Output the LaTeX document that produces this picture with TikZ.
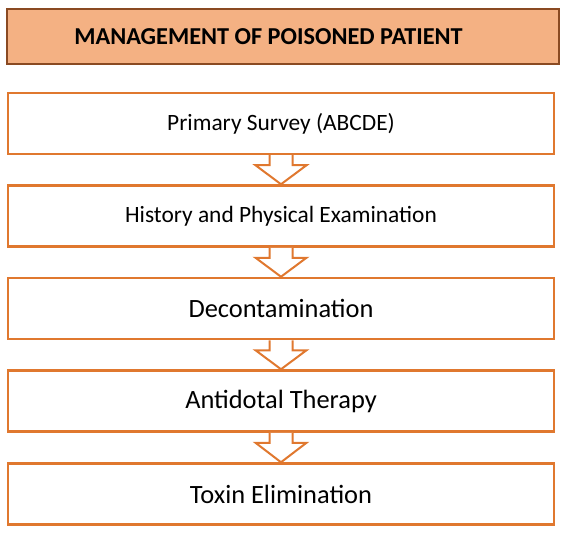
\documentclass[tikz,border=0pt]{standalone}
\usepackage{fontspec}
\setmainfont{Carlito}
\usetikzlibrary{calc}
\definecolor{boxorange}{HTML}{E0782F}
\definecolor{headfill}{HTML}{F4B183}
\definecolor{headline}{HTML}{8A4A22}
\tikzset{
  headbox/.style={draw=headline, fill=headfill, line width=1.5bp, minimum width=552bp, minimum height=55bp, inner sep=0pt},
  stagebox/.style={draw=boxorange, fill=white, line width=2.5bp, minimum width=546bp, minimum height=61bp, inner sep=0pt},
  smalltext/.style={font=\fontsize{23.4bp}{27bp}\selectfont},
  bigtext/.style={font=\fontsize{26.4bp}{30bp}\selectfont},
  flowarrow/.style={draw=boxorange, fill=white, line width=2bp, line join=miter}
}
\newcommand{\flowarr}[2]{%
  \path[flowarrow] ($(#1.south)+(-11.5,0)$) -- ($(#1.south)+(-11.5,10)$) -- ($(#1.south)+(-25.5,10)$)
    -- (#2.north) -- ($(#1.south)+(25.5,10)$) -- ($(#1.south)+(11.5,10)$) -- ($(#1.south)+(11.5,0)$);
}
\begin{document}
\begin{tikzpicture}[x=1bp, y=-1bp]
\useasboundingbox (0,0) rectangle (564,534);
\node[headbox] (head) at (283,36.5) {};
\node[font=\fontsize{24.3bp}{28bp}\selectfont\bfseries] (title) at (268.5,36.5) {MANAGEMENT OF POISONED PATIENT};
\node[stagebox, smalltext] (b1) at (281,123.5) {Primary Survey (ABCDE)};
\node[stagebox, smalltext] (b2) at (281,216) {History and Physical Examination};
\node[stagebox, bigtext] (b3) at (281,308.5) {Decontamination};
\node[stagebox, bigtext] (b4) at (281,401) {Antidotal Therapy};
\node[stagebox, bigtext] (b5) at (281,494) {Toxin Elimination};
\flowarr{b1}{b2}
\flowarr{b2}{b3}
\flowarr{b3}{b4}
\flowarr{b4}{b5}
\end{tikzpicture}
\end{document}
